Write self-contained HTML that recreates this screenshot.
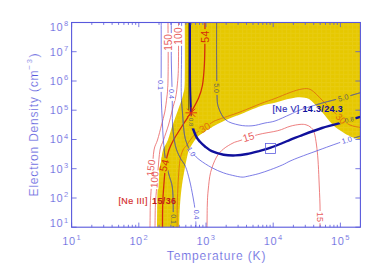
<!DOCTYPE html>
<html><head><meta charset="utf-8"><style>
html,body{margin:0;padding:0;background:#fff;}
svg{display:block;font-family:"Liberation Sans",sans-serif;}
</style></head><body>
<svg width="382" height="273" viewBox="0 0 382 273">
<rect width="382" height="273" fill="#fff"/>
<defs><clipPath id="yc"><path d="M157.0,227.2 C157.1,222.7 157.2,206.7 157.3,200.0 C157.4,193.3 157.5,191.7 157.8,187.0 C158.1,182.3 158.5,176.2 159.0,172.0 C159.5,167.8 160.3,165.7 161.0,162.0 C161.7,158.3 161.8,153.7 163.0,150.0 C164.2,146.3 166.3,144.2 167.9,140.0 C169.5,135.8 170.9,130.0 172.6,125.0 C174.3,120.0 176.3,115.0 178.0,110.0 C179.7,105.0 181.9,100.0 183.0,95.0 C184.1,90.0 184.5,92.1 184.8,80.0 C185.1,67.9 184.8,32.1 184.8,22.5 L360.4,22.5 L360.4,139.5 L360.4,139.5 C359.2,139.2 355.7,138.6 353.0,137.5 C350.3,136.4 347.3,135.1 344.0,133.0 C340.7,130.9 336.7,128.5 333.0,125.0 C329.3,121.5 325.7,116.1 322.0,112.0 C318.3,107.9 313.8,102.9 311.0,100.5 C308.2,98.1 307.2,98.3 305.0,97.8 C302.8,97.2 300.8,97.0 298.0,97.2 C295.2,97.4 291.8,98.1 288.0,99.0 C284.2,99.9 279.5,101.5 275.0,102.7 C270.5,103.9 266.8,104.0 261.0,106.0 C255.2,108.0 244.4,112.8 240.0,114.6 C235.6,116.4 237.3,115.4 234.4,116.6 C231.5,117.8 226.4,119.8 222.8,121.5 C219.2,123.2 216.0,124.8 213.0,126.5 C210.0,128.2 207.4,129.5 204.7,131.4 C201.9,133.3 199.0,135.1 196.5,138.0 C194.0,140.9 191.0,145.9 189.5,148.7 C188.0,151.5 188.1,152.8 187.5,155.0 C186.9,157.2 186.5,159.5 186.0,162.0 C185.5,164.5 185.2,166.2 184.5,170.0 C183.8,173.8 182.8,179.2 182.0,185.0 C181.2,190.8 180.5,198.0 180.0,205.0 C179.5,212.0 179.3,223.5 179.2,227.2 Z"/></clipPath><pattern id="gr" width="4.4" height="4.1" patternUnits="userSpaceOnUse"><path d="M0,0.5H4.4M0.5,0V4.1" stroke="#fff" stroke-opacity="0.07" stroke-width="0.9"/></pattern></defs>
<path d="M157.0,227.2 C157.1,222.7 157.2,206.7 157.3,200.0 C157.4,193.3 157.5,191.7 157.8,187.0 C158.1,182.3 158.5,176.2 159.0,172.0 C159.5,167.8 160.3,165.7 161.0,162.0 C161.7,158.3 161.8,153.7 163.0,150.0 C164.2,146.3 166.3,144.2 167.9,140.0 C169.5,135.8 170.9,130.0 172.6,125.0 C174.3,120.0 176.3,115.0 178.0,110.0 C179.7,105.0 181.9,100.0 183.0,95.0 C184.1,90.0 184.5,92.1 184.8,80.0 C185.1,67.9 184.8,32.1 184.8,22.5 L360.4,22.5 L360.4,139.5 L360.4,139.5 C359.2,139.2 355.7,138.6 353.0,137.5 C350.3,136.4 347.3,135.1 344.0,133.0 C340.7,130.9 336.7,128.5 333.0,125.0 C329.3,121.5 325.7,116.1 322.0,112.0 C318.3,107.9 313.8,102.9 311.0,100.5 C308.2,98.1 307.2,98.3 305.0,97.8 C302.8,97.2 300.8,97.0 298.0,97.2 C295.2,97.4 291.8,98.1 288.0,99.0 C284.2,99.9 279.5,101.5 275.0,102.7 C270.5,103.9 266.8,104.0 261.0,106.0 C255.2,108.0 244.4,112.8 240.0,114.6 C235.6,116.4 237.3,115.4 234.4,116.6 C231.5,117.8 226.4,119.8 222.8,121.5 C219.2,123.2 216.0,124.8 213.0,126.5 C210.0,128.2 207.4,129.5 204.7,131.4 C201.9,133.3 199.0,135.1 196.5,138.0 C194.0,140.9 191.0,145.9 189.5,148.7 C188.0,151.5 188.1,152.8 187.5,155.0 C186.9,157.2 186.5,159.5 186.0,162.0 C185.5,164.5 185.2,166.2 184.5,170.0 C183.8,173.8 182.8,179.2 182.0,185.0 C181.2,190.8 180.5,198.0 180.0,205.0 C179.5,212.0 179.3,223.5 179.2,227.2 Z" fill="#e6c800"/>
<path d="M157.0,227.2 C157.1,222.7 157.2,206.7 157.3,200.0 C157.4,193.3 157.5,191.7 157.8,187.0 C158.1,182.3 158.5,176.2 159.0,172.0 C159.5,167.8 160.3,165.7 161.0,162.0 C161.7,158.3 161.8,153.7 163.0,150.0 C164.2,146.3 166.3,144.2 167.9,140.0 C169.5,135.8 170.9,130.0 172.6,125.0 C174.3,120.0 176.3,115.0 178.0,110.0 C179.7,105.0 181.9,100.0 183.0,95.0 C184.1,90.0 184.5,92.1 184.8,80.0 C185.1,67.9 184.8,32.1 184.8,22.5 L360.4,22.5 L360.4,139.5 L360.4,139.5 C359.2,139.2 355.7,138.6 353.0,137.5 C350.3,136.4 347.3,135.1 344.0,133.0 C340.7,130.9 336.7,128.5 333.0,125.0 C329.3,121.5 325.7,116.1 322.0,112.0 C318.3,107.9 313.8,102.9 311.0,100.5 C308.2,98.1 307.2,98.3 305.0,97.8 C302.8,97.2 300.8,97.0 298.0,97.2 C295.2,97.4 291.8,98.1 288.0,99.0 C284.2,99.9 279.5,101.5 275.0,102.7 C270.5,103.9 266.8,104.0 261.0,106.0 C255.2,108.0 244.4,112.8 240.0,114.6 C235.6,116.4 237.3,115.4 234.4,116.6 C231.5,117.8 226.4,119.8 222.8,121.5 C219.2,123.2 216.0,124.8 213.0,126.5 C210.0,128.2 207.4,129.5 204.7,131.4 C201.9,133.3 199.0,135.1 196.5,138.0 C194.0,140.9 191.0,145.9 189.5,148.7 C188.0,151.5 188.1,152.8 187.5,155.0 C186.9,157.2 186.5,159.5 186.0,162.0 C185.5,164.5 185.2,166.2 184.5,170.0 C183.8,173.8 182.8,179.2 182.0,185.0 C181.2,190.8 180.5,198.0 180.0,205.0 C179.5,212.0 179.3,223.5 179.2,227.2 Z" fill="url(#gr)"/>
<path d="M168.0,22.5 C168.0,28.8 168.2,50.4 168.2,60.0 C168.2,69.6 168.1,75.0 168.0,80.0 C167.9,85.0 167.8,87.2 167.6,90.0 C167.4,92.8 167.4,93.3 166.9,97.0 C166.4,100.7 165.7,107.3 164.8,112.0 C163.9,116.7 162.7,120.3 161.5,125.0 C160.3,129.7 158.8,135.8 157.5,140.0 C156.2,144.2 154.9,145.0 154.0,150.0 C153.1,155.0 152.8,163.8 152.3,170.0 C151.9,176.2 151.6,181.2 151.3,187.0 C151.0,192.8 150.5,198.3 150.3,205.0 C150.1,211.7 150.1,223.5 150.0,227.2" fill="none" stroke="#e86060" stroke-width="0.8" />
<path d="M178.5,22.5 C178.5,28.8 178.6,51.5 178.5,60.0 C178.4,68.5 178.4,69.0 178.2,73.5 C178.0,78.0 177.5,83.1 177.1,87.0 C176.7,90.9 176.5,93.2 175.7,97.0 C174.9,100.8 173.5,105.3 172.3,110.0 C171.1,114.7 170.0,120.0 168.5,125.0 C167.0,130.0 164.9,135.8 163.5,140.0 C162.1,144.2 160.9,145.0 160.0,150.0 C159.1,155.0 158.6,163.8 158.0,170.0 C157.4,176.2 157.1,181.2 156.7,187.0 C156.3,192.8 155.7,198.3 155.4,205.0 C155.1,211.7 155.1,223.5 155.0,227.2" fill="none" stroke="#e86060" stroke-width="0.8" />
<path d="M205.0,22.5 C205.0,27.1 204.9,42.4 204.8,50.0 C204.7,57.6 204.6,62.2 204.2,68.0 C203.8,73.8 203.4,80.0 202.5,85.0 C201.6,90.0 200.5,93.5 198.6,98.0 C196.7,102.5 193.6,107.8 191.0,112.3 C188.4,116.8 185.7,120.4 182.8,125.0 C179.9,129.6 175.8,135.8 173.5,140.0 C171.2,144.2 170.2,146.3 168.9,150.0 C167.7,153.7 166.9,155.8 166.0,162.0 C165.1,168.2 164.2,179.8 163.7,187.0 C163.1,194.2 162.9,198.3 162.7,205.0 C162.5,211.7 162.5,223.5 162.5,227.2" fill="none" stroke="#d42c0c" stroke-width="1.3" />
<path d="M177.0,227.2 C177.0,223.5 177.1,211.2 177.2,205.0 C177.3,198.8 177.6,195.0 177.8,190.0 C178.0,185.0 178.2,180.0 178.6,175.0 C179.0,170.0 179.3,164.2 180.0,160.0 C180.7,155.8 181.9,152.4 183.0,150.0 C184.1,147.6 185.3,147.2 186.6,145.4 C187.9,143.6 189.2,141.2 191.0,139.0 C192.8,136.8 193.8,134.9 197.3,132.2 C200.8,129.4 208.7,124.5 212.0,122.5 C215.3,120.5 212.3,121.8 217.0,120.0 C221.7,118.2 232.7,114.8 240.0,112.0 C247.3,109.2 255.2,105.8 261.0,103.5 C266.8,101.2 270.2,100.3 275.0,98.5 C279.8,96.7 285.5,94.1 290.0,92.5 C294.5,90.9 298.5,89.5 302.0,89.0 C305.5,88.5 307.7,88.0 311.0,89.8 C314.3,91.6 318.5,96.6 322.0,100.0 C325.5,103.4 329.0,107.0 332.0,110.0 C335.0,113.0 337.0,115.5 340.0,118.0 C343.0,120.5 346.6,123.4 350.0,125.0 C353.4,126.6 358.7,127.1 360.4,127.5" fill="none" stroke="#e07010" stroke-width="0.9" />
<path d="M207.0,227.2 C207.1,223.5 207.1,211.2 207.3,205.0 C207.5,198.8 207.6,195.4 208.2,190.0 C208.8,184.6 209.2,177.9 210.6,172.4 C212.0,166.9 214.3,161.0 216.5,157.1 C218.7,153.2 220.8,151.2 223.6,148.9 C226.3,146.6 230.3,144.4 233.0,143.0 C235.7,141.6 235.9,142.0 240.0,140.6 C244.1,139.2 251.4,136.3 257.7,134.7 C264.0,133.0 272.4,132.1 277.8,130.7 C283.2,129.3 286.3,127.3 290.0,126.3 C293.7,125.2 297.3,124.7 300.0,124.4 C302.7,124.2 304.2,124.3 306.0,124.8 C307.8,125.3 309.6,126.2 311.0,127.5 C312.4,128.8 313.4,129.9 314.3,132.8 C315.2,135.7 315.9,140.5 316.5,145.0 C317.1,149.5 317.6,154.2 318.0,160.0 C318.4,165.8 318.7,172.5 319.0,180.0 C319.3,187.5 319.8,197.1 320.0,205.0 C320.2,212.9 320.0,223.5 320.0,227.2" fill="none" stroke="#e86060" stroke-width="0.8" />
<path d="M161.2,22.5 C161.2,28.8 161.2,47.9 161.2,60.0 C161.2,72.1 161.0,84.2 161.2,95.0 C161.4,105.8 162.1,116.6 162.5,125.0 C162.9,133.4 163.2,139.1 163.8,145.3 C164.4,151.5 164.9,157.1 165.8,162.0 C166.7,166.9 167.9,170.8 169.0,175.0 C170.1,179.2 171.6,182.0 172.3,187.0 C173.0,192.0 173.0,198.3 173.2,205.0 C173.3,211.7 173.2,223.5 173.2,227.2" fill="none" stroke="#5c5ce0" stroke-width="0.8" />
<path d="M171.3,22.5 C171.3,28.8 171.2,47.9 171.3,60.0 C171.5,72.1 172.0,84.2 172.2,95.0 C172.4,105.8 172.1,116.6 172.6,125.0 C173.1,133.4 174.1,139.9 175.3,145.3 C176.5,150.7 178.3,154.0 180.0,157.5 C181.7,161.0 183.8,162.6 185.4,166.3 C187.0,170.1 188.2,174.9 189.5,180.0 C190.8,185.1 192.0,191.7 193.0,197.0 C194.0,202.3 194.8,207.0 195.3,212.0 C195.8,217.0 195.9,224.7 196.0,227.2" fill="none" stroke="#5c5ce0" stroke-width="0.8" />
<path d="M181.6,22.5 C181.6,28.8 181.6,47.9 181.5,60.0 C181.4,72.1 181.1,86.2 181.3,95.0 C181.5,103.8 182.0,106.3 182.5,113.0 C183.0,119.7 183.6,129.5 184.5,135.0 C185.4,140.5 187.0,143.7 187.8,146.0 C188.6,148.3 189.0,148.2 189.2,148.6" fill="none" stroke="#5c5ce0" stroke-width="0.8" />
<path d="M193.6,154.4 C194.7,155.4 197.0,158.0 200.0,160.2 C203.0,162.4 207.9,165.6 211.8,167.7 C215.7,169.8 219.7,171.5 223.6,172.9 C227.5,174.3 232.2,175.3 235.3,176.0 C238.4,176.7 240.0,177.0 242.0,177.1 C244.0,177.2 244.3,177.0 247.1,176.4 C249.9,175.8 255.0,174.7 258.9,173.6 C262.8,172.5 266.8,171.0 270.7,169.6 C274.6,168.2 279.3,166.3 282.5,164.9 C285.7,163.5 287.1,162.4 290.0,161.1 C292.9,159.8 295.8,158.6 300.0,157.0 C304.2,155.4 310.0,153.3 315.0,151.5 C320.0,149.7 325.8,147.5 330.0,146.0 C334.2,144.5 338.5,143.0 340.2,142.4" fill="none" stroke="#5c5ce0" stroke-width="0.8" />
<path d="M353.8,138.2 C354.9,137.8 359.3,136.4 360.4,136.1" fill="none" stroke="#5c5ce0" stroke-width="0.8" />
<path d="M216.6,22.5 C216.6,28.8 216.5,47.9 216.6,60.0 C216.7,72.1 216.7,87.0 217.0,95.0 C217.3,103.0 217.2,103.8 218.7,108.0 C220.2,112.2 222.4,117.2 225.8,120.0 C229.2,122.8 234.6,124.0 239.0,125.0 C243.4,126.0 247.7,126.1 252.0,125.8 C256.3,125.5 261.2,123.8 265.0,123.0 C268.8,122.2 270.8,122.4 275.0,121.0 C279.2,119.6 285.8,116.3 290.0,114.5 C294.2,112.7 294.7,111.9 300.0,110.0 C305.3,108.1 314.8,105.1 322.0,103.1 C329.2,101.0 336.6,99.4 343.0,97.7 C349.4,96.0 357.5,93.5 360.4,92.7" fill="none" stroke="#5c5ce0" stroke-width="0.8" />
<g clip-path="url(#yc)"><path d="M161.2,22.5 C161.2,28.8 161.2,47.9 161.2,60.0 C161.2,72.1 161.0,84.2 161.2,95.0 C161.4,105.8 162.1,116.6 162.5,125.0 C162.9,133.4 163.2,139.1 163.8,145.3 C164.4,151.5 164.9,157.1 165.8,162.0 C166.7,166.9 167.9,170.8 169.0,175.0 C170.1,179.2 171.6,182.0 172.3,187.0 C173.0,192.0 173.0,198.3 173.2,205.0 C173.3,211.7 173.2,223.5 173.2,227.2" fill="none" stroke="#6c6c50" stroke-width="0.7"/><path d="M171.3,22.5 C171.3,28.8 171.2,47.9 171.3,60.0 C171.5,72.1 172.0,84.2 172.2,95.0 C172.4,105.8 172.1,116.6 172.6,125.0 C173.1,133.4 174.1,139.9 175.3,145.3 C176.5,150.7 178.3,154.0 180.0,157.5 C181.7,161.0 183.8,162.6 185.4,166.3 C187.0,170.1 188.2,174.9 189.5,180.0 C190.8,185.1 192.0,191.7 193.0,197.0 C194.0,202.3 194.8,207.0 195.3,212.0 C195.8,217.0 195.9,224.7 196.0,227.2" fill="none" stroke="#6c6c50" stroke-width="0.7"/><path d="M181.6,22.5 C181.6,28.8 181.6,47.9 181.5,60.0 C181.4,72.1 181.1,86.2 181.3,95.0 C181.5,103.8 182.0,106.3 182.5,113.0 C183.0,119.7 183.6,129.5 184.5,135.0 C185.4,140.5 187.0,143.7 187.8,146.0 C188.6,148.3 189.0,148.2 189.2,148.6" fill="none" stroke="#6c6c50" stroke-width="0.7"/><path d="M193.6,154.4 C194.7,155.4 197.0,158.0 200.0,160.2 C203.0,162.4 207.9,165.6 211.8,167.7 C215.7,169.8 219.7,171.5 223.6,172.9 C227.5,174.3 232.2,175.3 235.3,176.0 C238.4,176.7 240.0,177.0 242.0,177.1 C244.0,177.2 244.3,177.0 247.1,176.4 C249.9,175.8 255.0,174.7 258.9,173.6 C262.8,172.5 266.8,171.0 270.7,169.6 C274.6,168.2 279.3,166.3 282.5,164.9 C285.7,163.5 287.1,162.4 290.0,161.1 C292.9,159.8 295.8,158.6 300.0,157.0 C304.2,155.4 310.0,153.3 315.0,151.5 C320.0,149.7 325.8,147.5 330.0,146.0 C334.2,144.5 338.5,143.0 340.2,142.4" fill="none" stroke="#6c6c50" stroke-width="0.7"/><path d="M353.8,138.2 C354.9,137.8 359.3,136.4 360.4,136.1" fill="none" stroke="#6c6c50" stroke-width="0.7"/><path d="M216.6,22.5 C216.6,28.8 216.5,47.9 216.6,60.0 C216.7,72.1 216.7,87.0 217.0,95.0 C217.3,103.0 217.2,103.8 218.7,108.0 C220.2,112.2 222.4,117.2 225.8,120.0 C229.2,122.8 234.6,124.0 239.0,125.0 C243.4,126.0 247.7,126.1 252.0,125.8 C256.3,125.5 261.2,123.8 265.0,123.0 C268.8,122.2 270.8,122.4 275.0,121.0 C279.2,119.6 285.8,116.3 290.0,114.5 C294.2,112.7 294.7,111.9 300.0,110.0 C305.3,108.1 314.8,105.1 322.0,103.1 C329.2,101.0 336.6,99.4 343.0,97.7 C349.4,96.0 357.5,93.5 360.4,92.7" fill="none" stroke="#6c6c50" stroke-width="0.7"/></g>
<line x1="188.8" y1="22.5" x2="188.8" y2="110" stroke="#181818" stroke-width="0.7"/>
<path d="M190.0,22.5 C190.0,28.8 190.0,48.8 190.0,60.0 C190.0,71.2 190.0,81.3 190.2,90.0 C190.4,98.7 190.9,108.6 191.0,112.3" fill="none" stroke="#10109c" stroke-width="2.0" />
<path d="M191.2,112.0 C191.2,114.7 191.4,125.3 191.5,128.0" fill="none" stroke="#10109c" stroke-width="0.9" />
<path d="M192.3,126.0 C192.5,126.7 192.8,128.1 193.5,130.0 C194.2,131.9 195.4,135.2 196.5,137.2 C197.6,139.2 198.6,140.2 200.0,141.8 C201.4,143.4 203.0,144.9 205.0,146.5 C207.0,148.1 208.7,149.8 211.8,151.2 C214.9,152.6 219.7,154.0 223.6,154.7 C227.5,155.4 231.4,155.5 235.3,155.4 C239.2,155.3 243.2,154.7 247.1,154.0 C251.0,153.3 255.0,152.2 258.9,151.2 C262.8,150.1 266.8,149.1 270.7,147.7 C274.6,146.3 279.3,144.3 282.5,143.0 C285.7,141.7 287.1,141.0 290.0,139.8 C292.9,138.6 294.7,138.0 300.0,136.0 C305.3,134.0 314.8,130.3 322.0,128.0 C329.2,125.7 339.5,123.3 343.0,122.4" fill="none" stroke="#10109c" stroke-width="2.4" />
<path d="M355.0,118.4 C355.9,118.1 359.5,117.1 360.4,116.8" fill="none" stroke="#10109c" stroke-width="2.4" />
<line x1="185.4" y1="112.8" x2="197.0" y2="112.8" stroke="#e03010" stroke-width="0.9"/>
<line x1="187.1" y1="108.7" x2="195.3" y2="116.9" stroke="#e03010" stroke-width="0.9"/>
<line x1="191.2" y1="107.0" x2="191.2" y2="118.6" stroke="#e03010" stroke-width="0.9"/>
<line x1="195.3" y1="108.7" x2="187.1" y2="116.9" stroke="#e03010" stroke-width="0.9"/>
<rect x="265.5" y="143.5" width="10" height="10" fill="none" stroke="#5c5ce0" stroke-width="0.8"/>
<rect x="158.7" y="38.0" width="18.8" height="9.0" fill="#fff" transform="rotate(-90 168.1 42.5)"/>
<rect x="168.8" y="31.5" width="19.7" height="9.0" fill="#fff" transform="rotate(-90 178.6 36.0)"/>
<g clip-path="url(#yc)"><rect x="197.5" y="31.7" width="14.6" height="9.5" fill="#e6c800" transform="rotate(-90 204.8 36.4)"/></g>
<rect x="153.9" y="81.8" width="13.8" height="6.3" fill="#fff" transform="rotate(90 160.8 85.0)"/>
<rect x="164.7" y="90.8" width="13.8" height="6.3" fill="#fff" transform="rotate(90 171.6 94.0)"/>
<g clip-path="url(#yc)"><rect x="209.8" y="84.8" width="13.8" height="6.3" fill="#e6c800" transform="rotate(90 216.7 88.0)"/></g>
<g clip-path="url(#yc)"><rect x="185.4" y="119.6" width="12.1" height="5.4" fill="#e6c800" transform="rotate(90 191.4 122.3)"/></g>
<g clip-path="url(#yc)"><rect x="166.3" y="215.8" width="13.8" height="6.3" fill="#e6c800" transform="rotate(90 173.2 219.0)"/></g>
<rect x="189.1" y="211.3" width="13.8" height="6.3" fill="#fff" transform="rotate(90 196.0 214.5)"/>
<g clip-path="url(#yc)"><rect x="198.1" y="123.1" width="13.2" height="9.0" fill="#e6c800" transform="rotate(-30 204.7 127.6)"/></g>
<rect x="241.5" y="132.1" width="13.8" height="9.5" fill="#fff" transform="rotate(-17 248.4 136.8)"/>
<rect x="141.4" y="163.5" width="18.8" height="9.0" fill="#fff" transform="rotate(-84 150.8 168.0)"/>
<rect x="145.0" y="175.2" width="18.8" height="9.0" fill="#fff" transform="rotate(-87 154.4 179.7)"/>
<g clip-path="url(#yc)"><rect x="156.9" y="160.6" width="14.6" height="9.5" fill="#e6c800" transform="rotate(-76 164.2 165.3)"/></g>
<rect x="314.6" y="212.9" width="12.1" height="8.1" fill="#fff" transform="rotate(90 320.6 217.0)"/>
<g clip-path="url(#yc)"><rect x="334.9" y="114.3" width="12.6" height="8.6" fill="#e6c800" transform="rotate(45 341.2 118.6)"/></g>
<g clip-path="url(#yc)"><rect x="335.9" y="94.3" width="14.6" height="6.8" fill="#e6c800" transform="rotate(-15 343.2 97.7)"/></g>
<g clip-path="url(#yc)"><rect x="342.8" y="116.9" width="12.9" height="5.9" fill="#e6c800" transform="rotate(-12 349.3 119.8)"/></g>
<text x="168.1" y="42.5" font-size="10" fill="#e86060" text-anchor="middle" font-weight="normal" letter-spacing="0" transform="rotate(-90 168.1 42.5)" dy="3.6">150</text>
<text x="178.6" y="36.0" font-size="10" fill="#e86060" text-anchor="middle" font-weight="normal" letter-spacing="0.3" transform="rotate(-90 178.6 36.0)" dy="3.6">100</text>
<text x="204.8" y="36.4" font-size="10.5" fill="#d42c0c" text-anchor="middle" font-weight="normal" letter-spacing="0.4" transform="rotate(-90 204.8 36.4)" dy="3.8">54</text>
<text x="160.8" y="85.0" font-size="7" fill="#5c5ce0" text-anchor="middle" font-weight="normal" letter-spacing="0" transform="rotate(90 160.8 85.0)" dy="2.5">0.1</text>
<text x="171.6" y="94.0" font-size="7" fill="#5c5ce0" text-anchor="middle" font-weight="normal" letter-spacing="0" transform="rotate(90 171.6 94.0)" dy="2.5">0.4</text>
<text x="216.7" y="88.0" font-size="7" fill="#66665a" text-anchor="middle" font-weight="normal" letter-spacing="0" transform="rotate(90 216.7 88.0)" dy="2.5">5.0</text>
<text x="191.4" y="122.3" font-size="6" fill="#66665a" text-anchor="middle" font-weight="normal" letter-spacing="0" transform="rotate(90 191.4 122.3)" dy="2.2">0.8</text>
<text x="191.4" y="151.6" font-size="7" fill="#5c5ce0" text-anchor="middle" font-weight="normal" letter-spacing="0" transform="rotate(58 191.4 151.6)" dy="2.5">1.0</text>
<text x="173.2" y="219.0" font-size="7" fill="#66665a" text-anchor="middle" font-weight="normal" letter-spacing="0" transform="rotate(90 173.2 219.0)" dy="2.5">0.1</text>
<text x="196.0" y="214.5" font-size="7" fill="#5c5ce0" text-anchor="middle" font-weight="normal" letter-spacing="0" transform="rotate(90 196.0 214.5)" dy="2.5">0.4</text>
<text x="204.7" y="127.6" font-size="10" fill="#e07010" text-anchor="middle" font-weight="normal" letter-spacing="0" transform="rotate(-30 204.7 127.6)" dy="3.6">30</text>
<text x="248.4" y="136.8" font-size="10.5" fill="#e86060" text-anchor="middle" font-weight="normal" letter-spacing="0" transform="rotate(-17 248.4 136.8)" dy="3.8">15</text>
<text x="150.8" y="168.0" font-size="10" fill="#e86060" text-anchor="middle" font-weight="normal" letter-spacing="0" transform="rotate(-84 150.8 168.0)" dy="3.6">150</text>
<text x="154.4" y="179.7" font-size="10" fill="#e86060" text-anchor="middle" font-weight="normal" letter-spacing="0" transform="rotate(-87 154.4 179.7)" dy="3.6">100</text>
<text x="164.2" y="165.3" font-size="10.5" fill="#d42c0c" text-anchor="middle" font-weight="normal" letter-spacing="0.4" transform="rotate(-76 164.2 165.3)" dy="3.8">54</text>
<text x="320.6" y="217.0" font-size="9" fill="#e86060" text-anchor="middle" font-weight="normal" letter-spacing="0" transform="rotate(90 320.6 217.0)" dy="3.2">15</text>
<text x="341.2" y="118.6" font-size="9.5" fill="#e07010" text-anchor="middle" font-weight="normal" letter-spacing="0" transform="rotate(45 341.2 118.6)" dy="3.4">30</text>
<text x="343.2" y="97.7" font-size="7.5" fill="#66665a" text-anchor="middle" font-weight="normal" letter-spacing="0" transform="rotate(-15 343.2 97.7)" dy="2.7">5.0</text>
<text x="349.3" y="119.8" font-size="6.5" fill="#66665a" text-anchor="middle" font-weight="normal" letter-spacing="0" transform="rotate(-12 349.3 119.8)" dy="2.3">0.8</text>
<text x="346.7" y="140.0" font-size="7.5" fill="#5c5ce0" text-anchor="middle" font-weight="normal" letter-spacing="0" transform="rotate(-16 346.7 140.0)" dy="2.7">1.0</text>
<text transform="translate(272.5,111.6) scale(1,1.1)" font-size="9" fill="#2c2cb8" stroke="#2c2cb8" stroke-width="0.2" letter-spacing="0.35">[Ne V] <tspan font-weight="bold" fill="#10109c" stroke="none">14.3/24.3</tspan></text>
<text transform="translate(118.5,204) scale(1,1.1)" font-size="9" fill="#d42c2c" stroke="#d42c2c" stroke-width="0.15" letter-spacing="0.35">[Ne III] <tspan dx="1.5" font-weight="bold" fill="#c01818" stroke="none">15/36</tspan></text>
<rect x="71.6" y="22.5" width="288.8" height="204.7" fill="none" stroke="#5858dc" stroke-width="1.1"/>
<path d="M71.6,227.2 v-4.6 M71.6,22.5 v4.6 M91.8,227.2 v-2.4 M91.8,22.5 v2.4 M103.7,227.2 v-2.4 M103.7,22.5 v2.4 M112.1,227.2 v-2.4 M112.1,22.5 v2.4 M118.6,227.2 v-2.4 M118.6,22.5 v2.4 M123.9,227.2 v-2.4 M123.9,22.5 v2.4 M128.4,227.2 v-2.4 M128.4,22.5 v2.4 M132.3,227.2 v-2.4 M132.3,22.5 v2.4 M135.7,227.2 v-2.4 M135.7,22.5 v2.4 M138.8,227.2 v-4.6 M138.8,22.5 v4.6 M159.0,227.2 v-2.4 M159.0,22.5 v2.4 M170.9,227.2 v-2.4 M170.9,22.5 v2.4 M179.3,227.2 v-2.4 M179.3,22.5 v2.4 M185.8,227.2 v-2.4 M185.8,22.5 v2.4 M191.1,227.2 v-2.4 M191.1,22.5 v2.4 M195.6,227.2 v-2.4 M195.6,22.5 v2.4 M199.5,227.2 v-2.4 M199.5,22.5 v2.4 M202.9,227.2 v-2.4 M202.9,22.5 v2.4 M206.0,227.2 v-4.6 M206.0,22.5 v4.6 M226.2,227.2 v-2.4 M226.2,22.5 v2.4 M238.1,227.2 v-2.4 M238.1,22.5 v2.4 M246.5,227.2 v-2.4 M246.5,22.5 v2.4 M253.0,227.2 v-2.4 M253.0,22.5 v2.4 M258.3,227.2 v-2.4 M258.3,22.5 v2.4 M262.8,227.2 v-2.4 M262.8,22.5 v2.4 M266.7,227.2 v-2.4 M266.7,22.5 v2.4 M270.1,227.2 v-2.4 M270.1,22.5 v2.4 M273.2,227.2 v-4.6 M273.2,22.5 v4.6 M293.4,227.2 v-2.4 M293.4,22.5 v2.4 M305.3,227.2 v-2.4 M305.3,22.5 v2.4 M313.7,227.2 v-2.4 M313.7,22.5 v2.4 M320.2,227.2 v-2.4 M320.2,22.5 v2.4 M325.5,227.2 v-2.4 M325.5,22.5 v2.4 M330.0,227.2 v-2.4 M330.0,22.5 v2.4 M333.9,227.2 v-2.4 M333.9,22.5 v2.4 M337.3,227.2 v-2.4 M337.3,22.5 v2.4 M340.4,227.2 v-4.6 M340.4,22.5 v4.6 M71.6,227.2 h5 M360.4,227.2 h-5 M71.6,198.0 h5 M360.4,198.0 h-5 M71.6,168.7 h5 M360.4,168.7 h-5 M71.6,139.5 h5 M360.4,139.5 h-5 M71.6,110.2 h5 M360.4,110.2 h-5 M71.6,81.0 h5 M360.4,81.0 h-5 M71.6,51.7 h5 M360.4,51.7 h-5 M71.6,22.5 h5 M360.4,22.5 h-5" stroke="#5858dc" stroke-width="0.8" fill="none"/>
<text x="62.2" y="245.2" font-size="11" fill="#5858dc" letter-spacing="0.6" stroke="#fff" stroke-width="0.2">10</text>
<text x="76.4" y="240.0" font-size="7.5" fill="#5858dc" stroke="#fff" stroke-width="0.15">1</text>
<text x="129.4" y="245.2" font-size="11" fill="#5858dc" letter-spacing="0.6" stroke="#fff" stroke-width="0.2">10</text>
<text x="143.6" y="240.0" font-size="7.5" fill="#5858dc" stroke="#fff" stroke-width="0.15">2</text>
<text x="196.6" y="245.2" font-size="11" fill="#5858dc" letter-spacing="0.6" stroke="#fff" stroke-width="0.2">10</text>
<text x="210.8" y="240.0" font-size="7.5" fill="#5858dc" stroke="#fff" stroke-width="0.15">3</text>
<text x="263.8" y="245.2" font-size="11" fill="#5858dc" letter-spacing="0.6" stroke="#fff" stroke-width="0.2">10</text>
<text x="278.0" y="240.0" font-size="7.5" fill="#5858dc" stroke="#fff" stroke-width="0.15">4</text>
<text x="331.0" y="245.2" font-size="11" fill="#5858dc" letter-spacing="0.6" stroke="#fff" stroke-width="0.2">10</text>
<text x="345.2" y="240.0" font-size="7.5" fill="#5858dc" stroke="#fff" stroke-width="0.15">5</text>
<text x="49.8" y="227.0" font-size="11" fill="#5858dc" letter-spacing="0.6" stroke="#fff" stroke-width="0.2">10</text>
<text x="64.0" y="222.5" font-size="7.5" fill="#5858dc" stroke="#fff" stroke-width="0.15">1</text>
<text x="49.8" y="201.8" font-size="11" fill="#5858dc" letter-spacing="0.6" stroke="#fff" stroke-width="0.2">10</text>
<text x="64.0" y="197.3" font-size="7.5" fill="#5858dc" stroke="#fff" stroke-width="0.15">2</text>
<text x="49.8" y="172.5" font-size="11" fill="#5858dc" letter-spacing="0.6" stroke="#fff" stroke-width="0.2">10</text>
<text x="64.0" y="168.0" font-size="7.5" fill="#5858dc" stroke="#fff" stroke-width="0.15">3</text>
<text x="49.8" y="143.3" font-size="11" fill="#5858dc" letter-spacing="0.6" stroke="#fff" stroke-width="0.2">10</text>
<text x="64.0" y="138.8" font-size="7.5" fill="#5858dc" stroke="#fff" stroke-width="0.15">4</text>
<text x="49.8" y="114.0" font-size="11" fill="#5858dc" letter-spacing="0.6" stroke="#fff" stroke-width="0.2">10</text>
<text x="64.0" y="109.5" font-size="7.5" fill="#5858dc" stroke="#fff" stroke-width="0.15">5</text>
<text x="49.8" y="84.8" font-size="11" fill="#5858dc" letter-spacing="0.6" stroke="#fff" stroke-width="0.2">10</text>
<text x="64.0" y="80.3" font-size="7.5" fill="#5858dc" stroke="#fff" stroke-width="0.15">6</text>
<text x="49.8" y="55.5" font-size="11" fill="#5858dc" letter-spacing="0.6" stroke="#fff" stroke-width="0.2">10</text>
<text x="64.0" y="51.0" font-size="7.5" fill="#5858dc" stroke="#fff" stroke-width="0.15">7</text>
<text x="49.8" y="30.8" font-size="11" fill="#5858dc" letter-spacing="0.6" stroke="#fff" stroke-width="0.2">10</text>
<text x="64.0" y="26.3" font-size="7.5" fill="#5858dc" stroke="#fff" stroke-width="0.15">8</text>
<text x="216.6" y="259.8" font-size="12" fill="#5858dc" stroke="#fff" stroke-width="0.22" text-anchor="middle" letter-spacing="0.85">Temperature (K)</text>
<text transform="translate(38.3,124.5) rotate(-90)" font-size="12" fill="#5858dc" stroke="#fff" stroke-width="0.22" text-anchor="middle" letter-spacing="0.8">Electron Density (cm<tspan font-size="8" dy="-6.5" letter-spacing="1.6">−3</tspan><tspan dy="6.5">)</tspan></text>
</svg>
</body></html>
